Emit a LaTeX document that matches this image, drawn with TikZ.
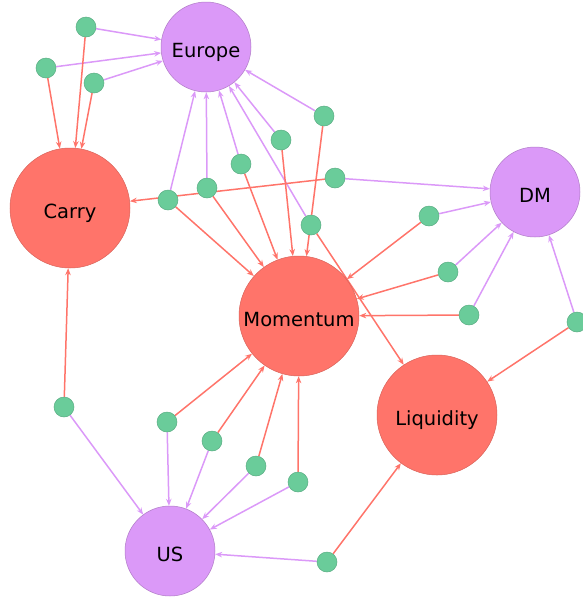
\documentclass[tikz,border=0pt]{standalone}
\usepackage{fontspec}
\setmainfont{DejaVu Sans}
\usepackage{tikz}
\usetikzlibrary{arrows.meta, backgrounds}
\definecolor{factorred}{RGB}{255, 116, 106}
\definecolor{regionpurple}{RGB}{219, 153, 248}
\definecolor{assetgreen}{RGB}{106, 204, 154}

\begin{document}
\begin{tikzpicture}[x=1pt, y=-1pt, >={Stealth[length=7pt, width=5.5pt]},
    factor/.style={circle, inner sep=0pt, minimum size=120pt, fill=factorred, draw=factorred!85!black, line width=0.5pt, text height=22pt, text depth=2pt, font=\fontsize{19.5}{20}\selectfont},
    region/.style={factor, minimum size=90pt, fill=regionpurple, draw=regionpurple!80!black},
    asset/.style={circle, inner sep=0pt, minimum size=20pt, fill=assetgreen, draw=assetgreen!85!black, line width=0.5pt},
    redlink/.style={->, factorred, line width=1.5pt},
    purplelink/.style={->, regionpurple, line width=1.5pt}]
    \useasboundingbox (0,0) rectangle (582,598);
    % factors and regions
    \node[region] (europe) at (206,47) {Europe};
    \node[region] (dm) at (535,192) {DM};
    \node[region] (us) at (170,551) {US};
    \node[factor] (carry) at (70,208) {Carry};
    \node[factor] (momentum) at (299,316) {Momentum};
    \node[factor] (liquidity) at (437,415) {Liquidity};
    % assets
    \node[asset] (a1) at (86,27) {};
    \node[asset] (a2) at (46,68) {};
    \node[asset] (a3) at (94,83) {};
    \node[asset] (a4) at (168,200) {};
    \node[asset] (a5) at (207,188) {};
    \node[asset] (a6) at (241,164) {};
    \node[asset] (a7) at (281,140) {};
    \node[asset] (a8) at (324,116) {};
    \node[asset] (a9) at (335,178) {};
    \node[asset] (a10) at (311,225) {};
    \node[asset] (a11) at (429,216) {};
    \node[asset] (a12) at (448,272) {};
    \node[asset] (a13) at (469,315) {};
    \node[asset] (a14) at (577,322) {};
    \node[asset] (a15) at (64,407) {};
    \node[asset] (a16) at (167,422) {};
    \node[asset] (a17) at (212,441) {};
    \node[asset] (a18) at (256,466) {};
    \node[asset] (a19) at (298,482) {};
    \node[asset] (a20) at (327,562) {};
    \begin{scope}[on background layer]
        % links to regions
        \draw[purplelink] (a1) -- (europe);
        \draw[purplelink] (a2) -- (europe);
        \draw[purplelink] (a3) -- (europe);
        \draw[purplelink] (a4) -- (europe);
        \draw[purplelink] (a5) -- (europe);
        \draw[purplelink] (a6) -- (europe);
        \draw[purplelink] (a7) -- (europe);
        \draw[purplelink] (a8) -- (europe);
        \draw[purplelink] (a10) -- (europe);
        \draw[purplelink] (a9) -- (dm);
        \draw[purplelink] (a11) -- (dm);
        \draw[purplelink] (a12) -- (dm);
        \draw[purplelink] (a13) -- (dm);
        \draw[purplelink] (a14) -- (dm);
        \draw[purplelink] (a15) -- (us);
        \draw[purplelink] (a16) -- (us);
        \draw[purplelink] (a17) -- (us);
        \draw[purplelink] (a18) -- (us);
        \draw[purplelink] (a19) -- (us);
        \draw[purplelink] (a20) -- (us);
        % links to factors
        \draw[redlink] (a1) -- (carry);
        \draw[redlink] (a2) -- (carry);
        \draw[redlink] (a3) -- (carry);
        \draw[redlink] (a9) -- (carry);
        \draw[redlink] (a15) -- (carry);
        \draw[redlink] (a4) -- (momentum);
        \draw[redlink] (a5) -- (momentum);
        \draw[redlink] (a6) -- (momentum);
        \draw[redlink] (a7) -- (momentum);
        \draw[redlink] (a8) -- (momentum);
        \draw[redlink] (a11) -- (momentum);
        \draw[redlink] (a12) -- (momentum);
        \draw[redlink] (a13) -- (momentum);
        \draw[redlink] (a16) -- (momentum);
        \draw[redlink] (a17) -- (momentum);
        \draw[redlink] (a18) -- (momentum);
        \draw[redlink] (a19) -- (momentum);
        \draw[redlink] (a10) -- (liquidity);
        \draw[redlink] (a14) -- (liquidity);
        \draw[redlink] (a20) -- (liquidity);
    \end{scope}
\end{tikzpicture}
\end{document}
